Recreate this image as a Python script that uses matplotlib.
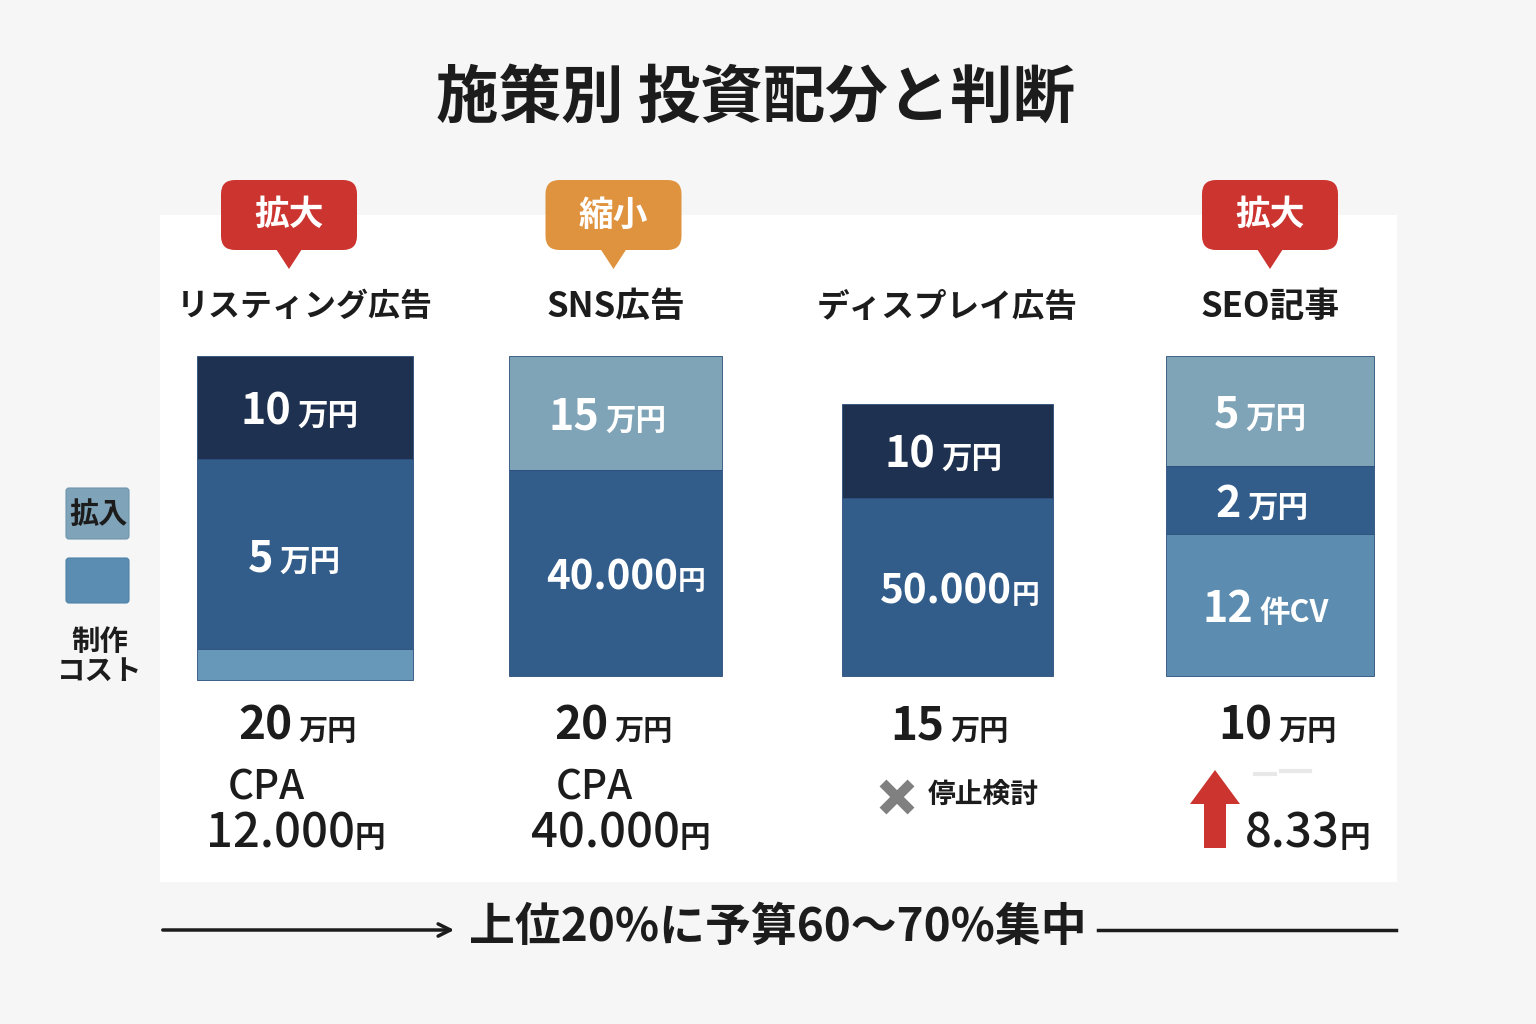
import matplotlib
matplotlib.use("Agg")
import matplotlib.pyplot as plt
from matplotlib.patches import FancyBboxPatch, Polygon, Rectangle, FancyArrow

plt.rcParams['font.family'] = ['Noto Sans CJK JP', 'DejaVu Sans']

# ---------------- data ----------------
title = "施策別 投資配分と判断"
categories = ["リスティング広告", "SNS広告", "ディスプレイ広告", "SEO記事"]
decisions = ["拡大", "縮小", None, "拡大"]
# stacked segments, top to bottom: (number, unit)
seg_labels = [
    [("10", "万円"), ("5", "万円"), ("", "")],
    [("15", "万円"), ("40.000", "円")],
    [("10", "万円"), ("50.000", "円")],
    [("5", "万円"), ("2", "万円"), ("12", "件CV")],
]
# visual heights of the segments as drawn (top to bottom)
seg_heights = [
    [103, 190, 31],
    [114, 206],
    [94, 178],
    [110, 68, 142],
]
totals = ["20", "20", "15", "10"]
cpa_values = ["12.000", "40.000", None, "8.33"]
status_notes = [None, None, "停止検討", None]
legend_labels = ["拡入", "制作\nコスト"]
footer = "上位20%に予算60〜70%集中"

# ---------------- styles ----------------
NAVY = "#1f3150"
MID = "#325d8b"
STEEL = "#7fa3b7"
LIGHT = "#6798ba"
SEO_LOW = "#5c8db0"
seg_colors = [
    [NAVY, MID, LIGHT],
    [STEEL, MID],
    [NAVY, MID],
    [STEEL, MID, SEO_LOW],
]
bar_x = [305, 615.5, 947.5, 1270]
bar_w = [216, 213, 211, 208]
bar_top = [356, 356, 404, 356]
seg_split = [
    [294, 276, 0],
    [602, 678],
    [938, 1012],
    [1242, 1244, 1256],
]
total_split = [295, 611, 947, 1275]
cpa_split = [355, 680, None, 1340]
cat_sizes = [23, 25, 23.5, 25]

fig = plt.figure(figsize=(15.36, 10.24), dpi=100)
fig.patch.set_facecolor("#f6f6f6")
ax = fig.add_axes([0, 0, 1, 1])
ax.set_xlim(0, 1536)
ax.set_ylim(1024, 0)
ax.axis("off")

# white panel
ax.add_patch(Rectangle((160, 215), 1237, 667, facecolor="white", edgecolor="none", zorder=0))

TXT = "#1c1c1c"


def num_unit(xs, yb, num, unit, nsize, usize, color, gap=4, nweight="bold", uweight="bold"):
    if num:
        ax.text(xs - gap, yb, num, ha="right", va="baseline", fontsize=nsize,
                color=color, fontweight=nweight, zorder=5)
    if unit:
        ax.text(xs + gap, yb, unit, ha="left", va="baseline", fontsize=usize,
                color=color, fontweight=uweight, zorder=5)


# title
ax.text(756, 98, title, ha="center", va="center", fontsize=45, fontweight="bold", color=TXT)

# bars
for i in range(len(categories)):
    y = bar_top[i]
    for j, h in enumerate(seg_heights[i]):
        ax.bar(bar_x[i], h, bottom=y, width=bar_w[i], color=seg_colors[i][j],
               edgecolor="#2b4f7a", linewidth=0.6, zorder=2)
        num, unit = seg_labels[i][j]
        if num:
            ybase = y + h / 2 + 17
            if unit == "円":
                num_unit(seg_split[i][j], ybase, num, unit, 29, 20, "white", gap=0,
                         nweight="semibold")
            else:
                num_unit(seg_split[i][j], ybase, num, unit, 31, 22, "white", gap=3,
                         nweight="semibold")
        y += h

    # category label
    ax.text(bar_x[i], 307, categories[i], ha="center", va="center", fontsize=cat_sizes[i],
            fontweight="bold", color=TXT)
    # total
    num_unit(total_split[i], 740, totals[i], "万円", 33, 21, TXT, gap=3, nweight="semibold")
    # CPA
    if cpa_values[i] is not None:
        num_unit(cpa_split[i], 847, cpa_values[i], "円", 34, 22, TXT, gap=0,
                 nweight="medium", uweight="bold")

# CPA labels
ax.text(266, 800, "CPA", ha="center", va="baseline", fontsize=29, color=TXT, fontweight="medium")
ax.text(594, 800, "CPA", ha="center", va="baseline", fontsize=29, color=TXT, fontweight="medium")

# decision callouts
dec_colors = {"拡大": "#cc3430", "縮小": "#e0933e"}
for i, d in enumerate(decisions):
    if d is None:
        continue
    cx = bar_x[i] - 16 if i == 0 else (bar_x[i] - 2 if i == 1 else bar_x[i])
    w, h = 136, 70
    box = FancyBboxPatch((cx - w / 2, 180), w, h, boxstyle="round,pad=0,rounding_size=14",
                         facecolor=dec_colors[d], edgecolor="none", zorder=3)
    ax.add_patch(box)
    ax.add_patch(Polygon([[cx - 13, 249], [cx + 13, 249], [cx, 269]], closed=True,
                         facecolor=dec_colors[d], edgecolor="none", zorder=3))
    ax.text(cx, 215, d, ha="center", va="center", fontsize=25, fontweight="bold",
            color="white", zorder=4)

# stop note for display ad
ax.plot([883, 911], [783, 811], color="#808080", lw=7, solid_capstyle="butt")
ax.plot([911, 883], [783, 811], color="#808080", lw=7, solid_capstyle="butt")
ax.text(928, 795, status_notes[2], ha="left", va="center", fontsize=20,
        fontweight="bold", color=TXT)

# SEO up arrow
ax.add_patch(FancyArrow(1215, 848, 0, -78, width=22, head_width=50, head_length=34,
                        length_includes_head=True, facecolor="#cc3430", edgecolor="none"))
ax.plot([1255, 1275], [774, 774], color="#e8e8e8", lw=3)
ax.plot([1281, 1310], [771, 771], color="#e8e8e8", lw=3)

# left legend
ax.add_patch(FancyBboxPatch((66, 488), 63, 51, boxstyle="round,pad=0,rounding_size=3",
                            facecolor="#7fa3b8", edgecolor="#6e95ae", lw=0.8))
ax.text(98, 514, legend_labels[0], ha="center", va="center", fontsize=21,
        fontweight="bold", color=TXT)
ax.add_patch(FancyBboxPatch((66, 558), 63, 45, boxstyle="round,pad=0,rounding_size=3",
                            facecolor="#5b8db3", edgecolor="#4f82a8", lw=0.8))
ax.text(100, 657, legend_labels[1], ha="center", va="center", fontsize=20.5,
        fontweight="bold", color=TXT, linespacing=1.05)

# footer
ax.annotate("", xy=(457, 930), xytext=(160, 930),
            arrowprops=dict(arrowstyle="->", lw=2.5, color=TXT, mutation_scale=22))
ax.plot([1098, 1396], [930, 930], color=TXT, lw=2.5)
ax.text(778, 928, footer, ha="center", va="center", fontsize=33, fontweight="bold", color=TXT)

fig.savefig("out.png", dpi=100, facecolor=fig.get_facecolor())
